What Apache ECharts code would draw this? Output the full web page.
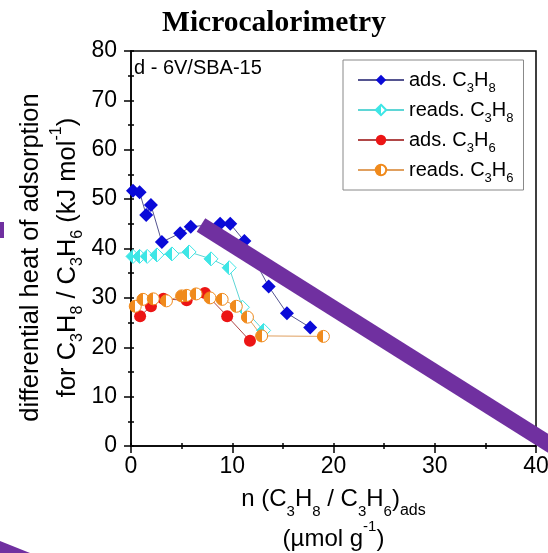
<!DOCTYPE html>
<html>
<head>
<meta charset="utf-8">
<script src="https://cdn.jsdelivr.net/npm/echarts@6/dist/echarts.min.js"></script>
<style>
  html, body { margin: 0; padding: 0; background: #fff; }
  #chart { width: 548px; height: 553px; }
</style>
</head>
<body>
<div id="chart"></div>
<script>
// values (n in umol/g, heat in kJ/mol)
const propaneAdsX = [0.2, 0.85, 1.5, 1.97, 3.05, 4.86, 5.9, 8.8, 9.8, 11.2, 13.6, 15.4, 17.7]
const propaneAdsY = [51.7, 51.4, 46.8, 48.8, 41.3, 43.1, 44.4, 45.0, 45.0, 41.5, 32.3, 26.9, 24.0]
const propaneReadsX = [0.2, 0.85, 1.6, 2.56, 4.04, 5.74, 7.9, 9.7, 11.0, 13.1]
const propaneReadsY = [38.4, 38.4, 38.4, 38.7, 38.9, 39.3, 37.9, 36.1, 28.1, 23.4]
const propeneAdsX = [0.9, 1.97, 3.2, 5.5, 7.3, 9.5, 11.75]
const propeneAdsY = [26.3, 28.3, 29.8, 29.5, 31.0, 26.3, 21.3]
const propeneReadsX = [0.42, 1.18, 2.2, 3.5, 5.0, 5.5, 6.43, 7.8, 9.0, 10.4, 11.5, 12.9, 19.0]
const propeneReadsY = [28.3, 29.7, 29.8, 29.4, 30.4, 30.5, 30.8, 30.0, 29.7, 28.3, 26.1, 22.3, 22.2]

const seriesNames = ['ads. C3H8', 'reads. C3H8', 'ads. C3H6', 'reads. C3H6']
const legendLabels = {
  'ads. C3H8': 'ads. C{s|3}H{s|8}',
  'reads. C3H8': 'reads. C{s|3}H{s|8}',
  'ads. C3H6': 'ads. C{s|3}H{s|6}',
  'reads. C3H6': 'reads. C{s|3}H{s|6}'
}
const sampleLabel = 'd - 6V/SBA-15'
const xName = '{n|n (C}{s|3}{n|H}{s|8}{n| / C}{s|3}{n|H}{s|6}{n|)}{a|ads}\n{n|(µmol g}{p|-1}{n|)}'
const yName = '{n|differential heat of adsorption}\n{n|for C}{s|3}{n|H}{s|8}{n| / C}{s|3}{n|H}{s|6}{n| (kJ mol}{p|-1}{n|)}'

const FONT = 'Liberation Sans, Arial, sans-serif'

function pairs(xs, ys) {
  return xs.map((x, i) => [x, ys[i]])
}

// left half coloured, right half white
function halfFill(color) {
  return {
    type: 'linear', x: 0, y: 0, x2: 1, y2: 0,
    colorStops: [
      {offset: 0, color: color}, {offset: 0.5, color: color},
      {offset: 0.5, color: '#fff'}, {offset: 1, color: '#fff'}
    ]
  }
}

function nameRich(lineH, size) {
  const small = Math.round(size * 0.63)
  return {
    n: {fontFamily: FONT, fontSize: size, color: '#000', lineHeight: lineH, verticalAlign: 'middle'},
    s: {fontFamily: FONT, fontSize: small, color: '#000', lineHeight: lineH - 16, verticalAlign: 'bottom'},
    a: {fontFamily: FONT, fontSize: small + 1, color: '#000', lineHeight: lineH - 20, verticalAlign: 'bottom'},
    p: {fontFamily: FONT, fontSize: small, color: '#000', lineHeight: lineH - 16, verticalAlign: 'top'}
  }
}

const chart = echarts.init(document.getElementById('chart'))

const axisCommon = {
  axisLine: {onZero: false, lineStyle: {color: '#000', width: 1.5}},
  axisTick: {length: 7, lineStyle: {color: '#000', width: 1.5}},
  minorTick: {show: true, splitNumber: 2, length: 3, lineStyle: {color: '#000', width: 1.5}},
  splitLine: {show: false},
  nameMoveOverlap: false
}

// extra axes that only carry the small inner ticks
const innerTicks = {
  axisLine: {show: false},
  axisTick: {inside: true, length: 3, lineStyle: {color: '#000', width: 1.5}},
  axisLabel: {show: false},
  splitLine: {show: false}
}

chart.setOption({
  backgroundColor: '#fff',
  animation: false,
  title: {
    text: 'Microcalorimetry',
    left: 'center',
    top: 3,
    textStyle: {fontFamily: 'Liberation Serif, Times New Roman, serif', fontSize: 29.5, fontWeight: 'bold', color: '#000'}
  },
  grid: {
    left: 131, right: 12, top: 51, bottom: 107,
    containLabel: false,
    outerBoundsMode: 'none',
    show: true, borderColor: '#000', borderWidth: 1.5
  },
  legend: {
    data: seriesNames,
    orient: 'vertical',
    left: 343, top: 60,
    padding: [5, 10, 5, 14],
    itemGap: 0,
    itemWidth: 46,
    itemHeight: 13,
    borderColor: '#888', borderWidth: 1,
    backgroundColor: '#fff',
    formatter: name => legendLabels[name],
    textStyle: {
      fontFamily: FONT, fontSize: 20, color: '#000', lineHeight: 30,
      rich: {s: {fontFamily: FONT, fontSize: 13, lineHeight: 16, verticalAlign: 'bottom', color: '#000'}}
    }
  },
  xAxis: [
    Object.assign({
      type: 'value', min: 0, max: 40, interval: 10,
      name: xName,
      nameLocation: 'middle',
      nameGap: 33,
      nameTextStyle: {lineHeight: 40, rich: nameRich(40, 24)},
      axisLabel: {color: '#000', fontSize: 23, fontFamily: FONT, margin: 9}
    }, axisCommon),
    Object.assign({type: 'value', min: 0, max: 40, interval: 5, position: 'bottom'}, innerTicks)
  ],
  yAxis: [
    Object.assign({
      type: 'value', min: 0, max: 80, interval: 10,
      name: yName,
      nameLocation: 'middle',
      nameRotate: 90,
      nameGap: 45,
      nameTextStyle: {lineHeight: 37, padding: [0, 18, 0, 0], rich: nameRich(37, 25.5)},
      axisLabel: {color: '#000', fontSize: 23, fontFamily: FONT, margin: 14}
    }, axisCommon),
    Object.assign({type: 'value', min: 0, max: 80, interval: 5, position: 'left'}, innerTicks)
  ],
  series: [
    {
      name: seriesNames[0], type: 'line',
      data: pairs(propaneAdsX, propaneAdsY),
      symbol: 'diamond', symbolSize: 14,
      itemStyle: {color: '#0a0ad8'},
      lineStyle: {color: '#555590', width: 1}
    },
    {
      name: seriesNames[1], type: 'line',
      data: pairs(propaneReadsX, propaneReadsY),
      symbol: 'diamond', symbolSize: 14,
      itemStyle: {color: halfFill('#3ee6e6'), borderColor: '#3ee6e6', borderWidth: 1},
      lineStyle: {color: '#5fd6d6', width: 1}
    },
    {
      name: seriesNames[2], type: 'line',
      data: pairs(propeneAdsX, propeneAdsY),
      symbol: 'circle', symbolSize: 12,
      itemStyle: {color: '#ec1515'},
      lineStyle: {color: '#b04848', width: 1}
    },
    {
      name: seriesNames[3], type: 'line',
      data: pairs(propeneReadsX, propeneReadsY),
      symbol: 'circle', symbolSize: 12,
      itemStyle: {color: halfFill('#f08a1c'), borderColor: '#f08a1c', borderWidth: 1},
      lineStyle: {color: '#e0a060', width: 1}
    }
  ],
  graphic: [
    {
      type: 'text', left: 134, top: 58, z: 50,
      style: {text: sampleLabel, fontFamily: FONT, fontSize: 20, fill: '#000'}
    },
    // purple strokes drawn over the slide
    {
      type: 'line', z: 100,
      shape: {x1: 201, y1: 225, x2: 562, y2: 452},
      style: {stroke: '#7030a0', lineWidth: 16, lineCap: 'butt'}
    },
    {
      type: 'rect', z: 100,
      shape: {x: 0, y: 222, width: 4, height: 16},
      style: {fill: '#7030a0'}
    },
    {
      type: 'polygon', z: 100,
      shape: {points: [[0, 541], [30, 553], [0, 553]]},
      style: {fill: '#7030a0'}
    }
  ]
})
</script>
</body>
</html>
